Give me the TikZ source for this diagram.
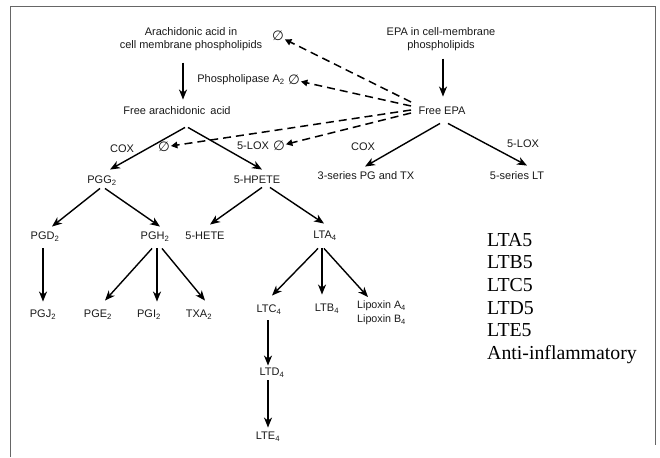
\documentclass[tikz,border=0pt]{standalone}
\usepackage{fontspec}
\setmainfont{Liberation Sans}
\newfontfamily\serifLT{Liberation Serif}
\newfontfamily\symfont{DejaVu Sans}
\usetikzlibrary{arrows.meta}
\newcommand{\lo}[1]{\textsubscript{#1}}
\newcommand{\nul}{{\symfont ∅}}
\begin{document}
\begin{tikzpicture}[x=1pt,y=-1pt,
  lbl/.style={font=\fontsize{11}{12.5}\selectfont, inner sep=0pt, text=black!90, text height=8pt, text depth=2.5pt},
  two/.style={font=\fontsize{11}{12.5}\selectfont, inner sep=0pt, text=black!90, align=center},
  nulnode/.style={font=\fontsize{13.5}{14}\selectfont, inner sep=0.8pt, text=black!90},
  arr/.style={line width=1.4pt, -{Stealth[length=10pt,width=8pt,inset=3pt]}},
  darr/.style={line width=1.5pt, dash pattern=on 8pt off 5pt, -{Triangle[length=6.5pt,width=6.5pt]}},
  frame/.style={draw=black!60, line width=1pt},
  ltlist/.style={font=\serifLT\fontsize{19.8}{22.6}\selectfont, inner sep=0pt, align=left, anchor=north west}]
\useasboundingbox (0,0) rectangle (660,457);
\draw[frame] (10,457) -- (10,7) -- (655,7) -- (655,445);

% top sources
\node[two] (ara) at (191,39) {Arachidonic acid in\\cell membrane phospholipids};
\node[two] (epa) at (441,39) {EPA in cell-membrane\\phospholipids};
\node[lbl] (faa) at (177,112) {Free arachidonic\hspace{2pt} acid};
\node[lbl] (fepa) at (442,112) {Free EPA};
\node[lbl] (pla) at (241,80) {Phospholipase A\lo{2}};
\node[nulnode] (n1) at (278,36) {\nul};
\node[nulnode] (n2) at (294,80) {\nul};
\node[lbl] (cox1) at (122,150) {COX};
\node[nulnode] (n3) at (164,147) {\nul};
\node[lbl] (lox1) at (253,147) {5-LOX};
\node[nulnode] (n4) at (279,146) {\nul};
\node[lbl] (cox2) at (363,148) {COX};
\node[lbl] (lox2) at (523,145) {5-LOX};
\node[lbl] (s3) at (366,177) {3-series PG and TX};
\node[lbl] (s5) at (517,177) {5-series LT};

% arachidonic cascade
\node[lbl] (pgg) at (102,181) {PGG\lo{2}};
\node[lbl] (hpete) at (257,181) {5-HPETE};
\node[lbl] (pgd) at (45,237) {PGD\lo{2}};
\node[lbl] (pgh) at (155,237) {PGH\lo{2}};
\node[lbl] (hete) at (205,237) {5-HETE};
\node[lbl] (lta) at (325,236) {LTA\lo{4}};
\node[lbl] (pgj) at (43,315) {PGJ\lo{2}};
\node[lbl] (pge) at (98,315) {PGE\lo{2}};
\node[lbl] (pgi) at (149,315) {PGI\lo{2}};
\node[lbl] (txa) at (199,315) {TXA\lo{2}};
\node[lbl] (ltc) at (269,310) {LTC\lo{4}};
\node[lbl] (ltb) at (327,309) {LTB\lo{4}};
\node[font=\fontsize{10.7}{14}\selectfont, inner sep=0pt, text=black!90, align=left, anchor=north west] (lipox) at (357,300.5) {Lipoxin A\lo{4}\\Lipoxin B\lo{4}};
\node[lbl] (ltd) at (272,373) {LTD\lo{4}};
\node[lbl] (lte) at (268,437) {LTE\lo{4}};

% right list
\node[ltlist] (list) at (487,233) {LTA5\\LTB5\\LTC5\\LTD5\\LTE5\\Anti-inflammatory};

% solid arrows
\draw[arr] ([xshift=-8pt,yshift=-12pt]ara.south) -- ([xshift=6pt,yshift=7pt]faa.north);
\draw[arr] ([xshift=2pt,yshift=-8pt]epa.south) -- ([xshift=1pt,yshift=10pt]fepa.north);
\draw[arr] ([xshift=8pt,yshift=-10pt]faa.south) -- ([xshift=8pt,yshift=6pt]pgg.north);
\draw[arr] ([xshift=11pt,yshift=-10pt]faa.south) -- ([xshift=5pt,yshift=6pt]hpete.north);
\draw[arr] ([xshift=-2pt,yshift=-6pt]fepa.south) -- ([xshift=-1pt,yshift=5pt]s3.north);
\draw[arr] ([xshift=6pt,yshift=-6pt]fepa.south) -- ([xshift=10pt,yshift=6pt]s5.north);
\draw[arr] ([xshift=-2pt,yshift=-2pt]pgg.south) -- ([xshift=7pt,yshift=5pt]pgd.north);
\draw[arr] ([xshift=3pt,yshift=-2pt]pgg.south) -- ([xshift=5pt,yshift=5pt]pgh.north);
\draw[arr] ([xshift=5pt,yshift=-1pt]hpete.south) -- ([xshift=5pt,yshift=7pt]hete.north);
\draw[arr] ([xshift=13pt,yshift=-1pt]hpete.south) -- ([xshift=-1pt,yshift=7pt]lta.north);
\draw[arr] ([xshift=-2pt,yshift=-6pt]pgd.south) -- ([yshift=8pt]pgj.north);
\draw[arr] ([xshift=-3pt,yshift=-6pt]pgh.south) -- ([xshift=7pt,yshift=9pt]pge.north);
\draw[arr] ([xshift=2pt,yshift=-6pt]pgh.south) -- ([xshift=8pt,yshift=8pt]pgi.north);
\draw[arr] ([xshift=7pt,yshift=-6pt]pgh.south) -- ([xshift=6pt,yshift=9pt]txa.north);
\draw[arr] ([xshift=-7pt,yshift=-7pt]lta.south) -- ([xshift=3pt,yshift=9pt]ltc.north);
\draw[arr] ([xshift=-3pt,yshift=-7pt]lta.south) -- ([xshift=-5pt,yshift=9pt]ltb.north);
\draw[arr] ([xshift=-1pt,yshift=-7pt]lta.south) -- ([xshift=11pt,yshift=3.5pt]lipox.north west);
\draw[arr] ([xshift=-1pt,yshift=-5pt]ltc.south) -- ([xshift=-4pt,yshift=2pt]ltd.north);
\draw[arr] ([xshift=-4pt,yshift=-2pt]ltd.south) -- ([yshift=4pt]lte.north);

% dashed inhibition arrows from Free EPA
\coordinate (d1) at (411,102);
\coordinate (d2) at (411,106);
\coordinate (d3) at (411,110);
\coordinate (d4) at (411,113);
\draw[darr] (d1) -- (n1);
\draw[darr] (d2) -- (n2);
\draw[darr] (d3) -- (n3);
\draw[darr] (d4) -- (n4);
\end{tikzpicture}
\end{document}
